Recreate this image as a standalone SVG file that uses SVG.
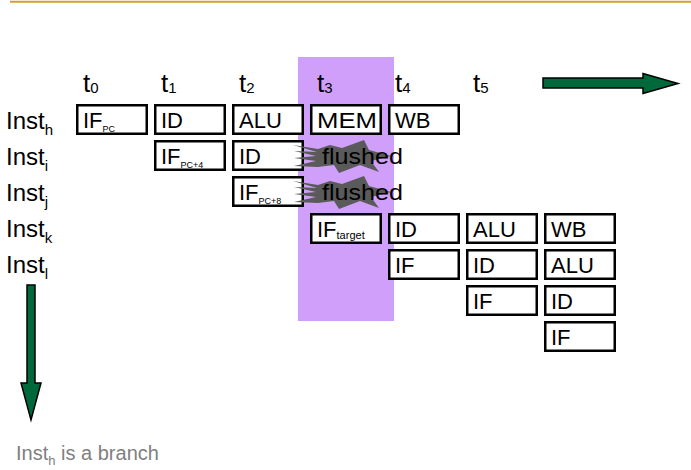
<svg xmlns="http://www.w3.org/2000/svg" xmlns:xlink="http://www.w3.org/1999/xlink" width="691" height="470" viewBox="0 0 691 470">
<style>
.box{fill:#fff;stroke:#000;stroke-width:2.5}
.t{font-family:"Liberation Sans",Arial,sans-serif;font-size:22px;fill:#000}
.s{font-size:9px;fill:#000}
.st{font-size:11px;fill:#000}
.lbl{font-family:"Liberation Sans",Arial,sans-serif;font-size:24px;fill:#000}
.lsub{font-size:15px}
.tl{font-family:"Liberation Sans",Arial,sans-serif;font-size:26px;fill:#000}
.arrow{fill:#00693C;stroke:#000;stroke-width:1.5;stroke-linejoin:miter}
.burst{fill:#5A5A5A}
</style>
<defs>
<path id="burst" d="M293,145 L318,149 L330,145 L342,148 L364,140 L369,150 L391,156 L371,161 L379,172 L360,165 L339,173 L334,165 L318,167 L294,166 L316,161 L294,158 L316,156 L294,151 L317,152 Z"/>
</defs>
<rect width="691" height="470" fill="#fff"/>
<line x1="10" y1="1.7" x2="691" y2="1.7" stroke="#D1A22E" stroke-width="2"/>
<rect id="highlight" x="298" y="57" width="96" height="264" fill="#CF9FFA"/>

<g id="time-labels">
<text class="tl" x="83" y="92">t<tspan class="lsub" dy="1">0</tspan></text>
<text class="tl" x="161" y="92">t<tspan class="lsub" dy="1">1</tspan></text>
<text class="tl" x="239" y="92">t<tspan class="lsub" dy="1">2</tspan></text>
<text class="tl" x="317" y="92">t<tspan class="lsub" dy="1">3</tspan></text>
<text class="tl" x="395" y="92">t<tspan class="lsub" dy="1">4</tspan></text>
<text class="tl" x="473" y="92">t<tspan class="lsub" dy="1">5</tspan></text>
</g>

<g id="inst-labels">
<text class="lbl" x="6" y="129">Inst<tspan class="lsub" dy="6">h</tspan></text>
<text class="lbl" x="6" y="165">Inst<tspan class="lsub" dy="6">i</tspan></text>
<text class="lbl" x="6" y="201">Inst<tspan class="lsub" dy="6">j</tspan></text>
<text class="lbl" x="6" y="237">Inst<tspan class="lsub" dy="6">k</tspan></text>
<text class="lbl" x="6" y="273">Inst<tspan class="lsub" dy="6">l</tspan></text>
</g>

<!-- Inst h -->
<g id="h-if"><rect class="box" x="77.25" y="105.25" width="69.5" height="28.5"/><text class="t" x="83" y="128">IF<tspan class="s" dy="4">PC</tspan></text></g>
<g id="h-id"><rect class="box" x="155.25" y="105.25" width="69.5" height="28.5"/><text class="t" x="161" y="128">ID</text></g>
<g id="h-alu"><rect class="box" x="233.25" y="105.25" width="69.5" height="28.5"/><text class="t" x="239" y="128">ALU</text></g>
<g id="h-mem"><rect class="box" x="311.25" y="105.25" width="69.5" height="28.5"/><text class="t" x="317" y="128" textLength="60" lengthAdjust="spacingAndGlyphs">MEM</text></g>
<g id="h-wb"><rect class="box" x="389.25" y="105.25" width="69.5" height="28.5"/><text class="t" x="395" y="128">WB</text></g>

<!-- Inst i -->
<g id="i-if"><rect class="box" x="155.25" y="141.25" width="69.5" height="28.5"/><text class="t" x="161" y="164">IF<tspan class="s" dy="4">PC+4</tspan></text></g>
<g id="i-id"><rect class="box" x="233.25" y="141.25" width="69.5" height="28.5"/><text class="t" x="239" y="164">ID</text></g>
<g id="i-flushed"><use xlink:href="#burst" class="burst"/><text class="t" x="322" y="164" font-size="23" textLength="81" lengthAdjust="spacingAndGlyphs">flushed</text></g>

<!-- Inst j -->
<g id="j-if"><rect class="box" x="233.25" y="177.25" width="69.5" height="28.5"/><text class="t" x="239" y="200">IF<tspan class="s" dy="4">PC+8</tspan></text></g>
<g id="j-flushed"><use xlink:href="#burst" class="burst" transform="translate(0,36)"/><text class="t" x="322" y="200" font-size="23" textLength="81" lengthAdjust="spacingAndGlyphs">flushed</text></g>

<!-- Inst k -->
<g id="k-if"><rect class="box" x="311.25" y="214.25" width="69.5" height="28.5"/><text class="t" x="317" y="237">IF<tspan class="st" dy="2">target</tspan></text></g>
<g id="k-id"><rect class="box" x="389.25" y="214.25" width="69.5" height="28.5"/><text class="t" x="395" y="237">ID</text></g>
<g id="k-alu"><rect class="box" x="467.25" y="214.25" width="69.5" height="28.5"/><text class="t" x="473" y="237">ALU</text></g>
<g id="k-wb"><rect class="box" x="545.25" y="214.25" width="69.5" height="28.5"/><text class="t" x="551" y="237">WB</text></g>

<!-- Inst l -->
<g id="l-if"><rect class="box" x="389.25" y="250.25" width="69.5" height="28.5"/><text class="t" x="395" y="273">IF</text></g>
<g id="l-id"><rect class="box" x="467.25" y="250.25" width="69.5" height="28.5"/><text class="t" x="473" y="273">ID</text></g>
<g id="l-alu"><rect class="box" x="545.25" y="250.25" width="69.5" height="28.5"/><text class="t" x="551" y="273">ALU</text></g>

<!-- next -->
<g id="m-if"><rect class="box" x="467.25" y="286.25" width="69.5" height="28.5"/><text class="t" x="473" y="309">IF</text></g>
<g id="m-id"><rect class="box" x="545.25" y="286.25" width="69.5" height="28.5"/><text class="t" x="551" y="309">ID</text></g>
<g id="n-if"><rect class="box" x="545.25" y="322.25" width="69.5" height="28.5"/><text class="t" x="551" y="345">IF</text></g>

<g id="connectors">
<polygon class="arrow" points="543,78 643,78 643,73.5 678,83.5 643,93.5 643,88 543,88"/>
<polygon class="arrow" points="27,285 35,285 35,383 41,383 31,420 21,383 27,383"/>
</g>

<text id="note" x="16" y="460" font-family="Liberation Sans, Arial, sans-serif" font-size="20" fill="#7F7F7F">Inst<tspan font-size="13" dy="5">h</tspan><tspan dy="-5"> is a branch</tspan></text>
</svg>
